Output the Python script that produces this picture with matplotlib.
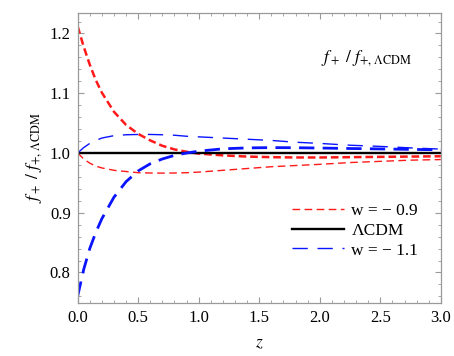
import matplotlib
matplotlib.use("Agg")
import matplotlib.pyplot as plt
from matplotlib.ticker import MultipleLocator

plt.rcParams['font.family'] = ['Liberation Serif', 'DejaVu Serif']
plt.rcParams['mathtext.fontset'] = 'stix'
plt.rcParams['lines.scale_dashes'] = False

# redshift grid
z = [0.0, 0.05, 0.1, 0.15, 0.2, 0.3, 0.4, 0.5, 0.6, 0.7, 0.8, 0.9, 1.0,
     1.2, 1.4, 1.6, 1.8, 2.0, 2.25, 2.5, 2.75, 3.0]

# w = -0.9, thick curve
red_thick = [1.212, 1.178, 1.148, 1.122, 1.101, 1.069, 1.047, 1.032, 1.021, 1.012, 1.006,
             1.002, 0.999, 0.996, 0.994, 0.993, 0.9925, 0.9925, 0.993, 0.9935, 0.994, 0.9945]
# w = -0.9, thin curve
red_thin = [1.0, 0.990, 0.983, 0.978, 0.975, 0.971, 0.969, 0.967, 0.9665, 0.9663, 0.9665,
            0.967, 0.968, 0.971, 0.974, 0.977, 0.979, 0.981, 0.984, 0.986, 0.988, 0.989]
# w = -1.1, thick curve
blue_thick = [0.760, 0.805, 0.840, 0.867, 0.890, 0.926, 0.952, 0.970, 0.982, 0.990, 0.996,
              1.000, 1.003, 1.007, 1.0085, 1.009, 1.0088, 1.0083, 1.0075, 1.0068, 1.006, 1.0053]
# w = -1.1, thin curve
blue_thin = [1.0, 1.009, 1.016, 1.021, 1.025, 1.029, 1.0305, 1.031, 1.031, 1.0305, 1.0297,
             1.028, 1.027, 1.025, 1.023, 1.021, 1.018, 1.016, 1.013, 1.011, 1.0085, 1.0065]

lcdm = [1.0 for _ in z]

fig = plt.figure(figsize=(4.54, 3.56), dpi=100)
ax = fig.add_axes([0.171, 0.149, 0.800, 0.814])

ax.plot(z, red_thick, color='#ff1a1a', lw=1.8, dashes=(5.5, 2.8))
ax.plot(z, red_thin, color='#ff1a1a', lw=1.0, dashes=(5.5, 3.2), label='w = − 0.9')
ax.plot(z, lcdm, color='black', lw=1.7, label='ΛCDM')
ax.plot(z, blue_thick, color='#0a14ff', lw=2.0, dashes=(11, 6))
ax.plot(z, blue_thin, color='#0a14ff', lw=1.0, dashes=(11, 7), label='w = − 1.1')

ax.set_xlim(0, 3.0)
ax.set_ylim(0.749, 1.234)
ax.xaxis.set_major_locator(MultipleLocator(0.5))
ax.xaxis.set_minor_locator(MultipleLocator(0.1))
ax.yaxis.set_major_locator(MultipleLocator(0.1))
ax.yaxis.set_minor_locator(MultipleLocator(0.02))
ax.xaxis.set_major_formatter(plt.FormatStrFormatter('%.1f'))
ax.yaxis.set_major_formatter(plt.FormatStrFormatter('%.1f'))

frame = '#9a9a9a'
for s in ax.spines.values():
    s.set_color(frame)
    s.set_linewidth(0.9)
ax.tick_params(which='both', direction='in', top=True, right=True, color=frame,
               labelsize=12, labelcolor='black', pad=5)
ax.tick_params(which='major', length=4.5, width=0.8)
ax.tick_params(which='minor', length=2.5, width=0.6)

ax.set_xlabel('$z$', fontsize=12.5, labelpad=7)
ax.set_ylabel(r'$f_+\ /\ f_{+,\,\Lambda\mathrm{CDM}}$', fontsize=12.5, labelpad=4)

ax.text(0.796, 0.845, r'$f_+\ /\ f_{+,\,\Lambda\mathrm{CDM}}$', transform=ax.transAxes,
        ha='center', va='center', fontsize=12.5)

ax.legend(loc='center left', bbox_to_anchor=(0.589, 0.249), frameon=False, fontsize=12.5,
          handlelength=3.0, handletextpad=0.45, labelspacing=0.2, borderpad=0, borderaxespad=0)

fig.savefig('out.png', dpi=100)
